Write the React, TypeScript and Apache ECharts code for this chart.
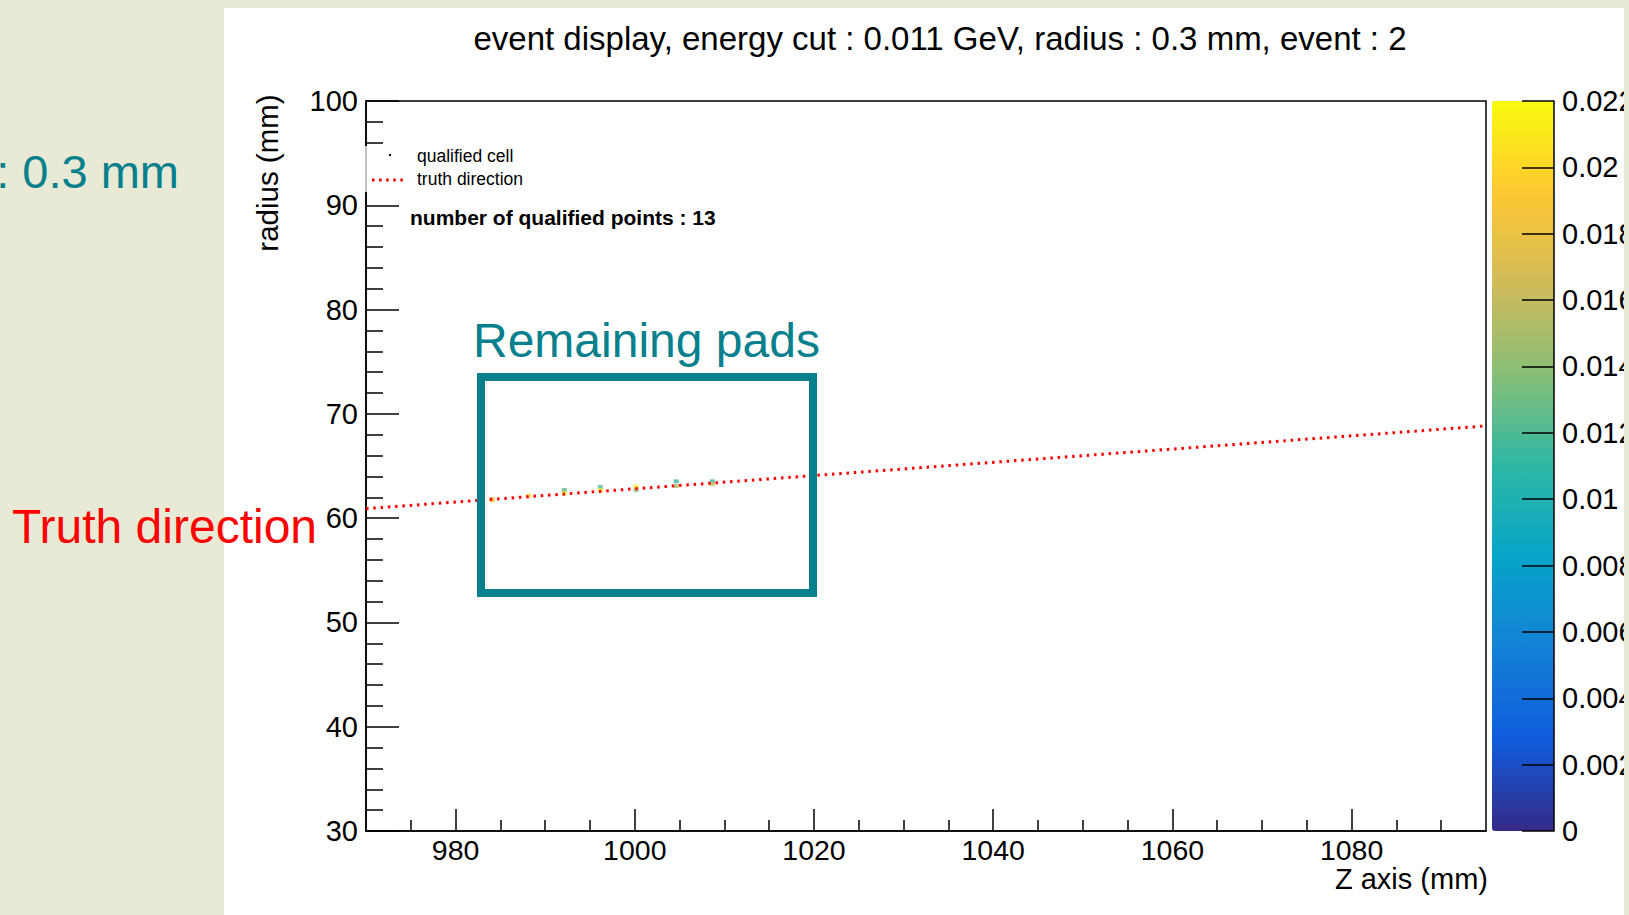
import React, { useEffect, useRef } from "react";
import * as echarts from "echarts";

// ---- data ----
const cellZ = [984.06, 984.06, 988.15, 992.13, 992.13, 996.15, 996.15, 1000.13, 1000.13, 1004.63, 1004.63, 1008.65, 1008.65];
const cellR = [61.84, 61.7, 62.15, 62.7, 62.38, 62.99, 62.67, 63.02, 62.7, 63.53, 63.08, 63.53, 63.27];
const cellE = [0.0175, 0.019, 0.0195, 0.0125, 0.021, 0.0125, 0.0215, 0.021, 0.014, 0.0115, 0.015, 0.0115, 0.016];

const truthZ = [970, 1094.6];
const truthR = [60.91, 68.82];

const xMajorTicks = [980, 1000, 1020, 1040, 1060, 1080];
const xMinorTicks = [975, 985, 990, 995, 1005, 1010, 1015, 1025, 1030, 1035, 1045, 1050, 1055, 1065, 1070, 1075, 1085, 1090];

const birdPalette = ["#352a87", "#0f5cdd", "#1481d6", "#06a4ca", "#2eb7a4", "#87bf77", "#d1bb59", "#fec832", "#f9fb0e"];

const titleText = "event display, energy cut : 0.011 GeV, radius : 0.3 mm, event : 2";

const FONT = "'Liberation Sans', Arial, Helvetica, sans-serif";
const BEIGE = "#e8ead5";
const TEAL = "#06808d";

export default function App() {
  const ref = useRef<HTMLDivElement>(null);
  useEffect(() => {
    if (!ref.current) return;
    const chart = echarts.init(ref.current, null, { renderer: "svg" });
    const cells = cellZ.map((z, i) => [z, cellR[i], cellE[i]]);
    const truth = truthZ.map((z, i) => [z, truthR[i]]);
    const option: any = {
      animation: false,
      backgroundColor: BEIGE,
      textStyle: { fontFamily: FONT },
      grid: [
        { left: 366, top: 101, width: 1120, height: 730, show: true, borderColor: "#000", borderWidth: 1.5, backgroundColor: "transparent", containLabel: false, outerBoundsMode: "none" },
        { left: 1492, top: 101, width: 62, height: 730, show: false, containLabel: false, outerBoundsMode: "none" },
      ],
      xAxis: [
        {
          type: "value", gridIndex: 0, min: 970, max: 1095,
          axisLine: { show: true, onZero: false, lineStyle: { color: "#000", width: 1.5 } },
          axisTick: { show: true, inside: true, length: 22, customValues: xMajorTicks, lineStyle: { color: "#000", width: 1.5 } },
          axisLabel: { show: true, customValues: xMajorTicks, fontSize: 28.5, color: "#000", margin: 4, fontFamily: FONT, formatter: (v: number) => String(v) },
          splitLine: { show: false },
        },
        {
          type: "value", gridIndex: 0, min: 970, max: 1095, position: "bottom",
          axisLine: { show: false, onZero: false },
          axisTick: { show: true, inside: true, length: 11, customValues: xMinorTicks, lineStyle: { color: "#000", width: 1.5 } },
          axisLabel: { show: false },
          splitLine: { show: false },
        },
        { type: "value", gridIndex: 1, show: false, min: 0, max: 1 },
      ],
      yAxis: [
        {
          type: "value", gridIndex: 0, min: 30, max: 100, interval: 10,
          axisLine: { show: true, onZero: false, lineStyle: { color: "#000", width: 1.5 } },
          axisTick: { show: true, inside: true, length: 33, lineStyle: { color: "#000", width: 1.5 } },
          minorTick: { show: true, splitNumber: 5, length: 17, lineStyle: { color: "#000", width: 1.5 } },
          axisLabel: { fontSize: 29, color: "#000", margin: 8, fontFamily: FONT },
          splitLine: { show: false },
        },
        {
          type: "value", gridIndex: 1, position: "right", min: 0, max: 0.022, interval: 0.002, z: 10,
          axisLine: { show: true, onZero: false, lineStyle: { color: "#000", width: 1.5 } },
          axisTick: { show: true, inside: true, length: 32, lineStyle: { color: "#000", width: 1.5 } },
          axisLabel: { fontSize: 29, color: "#000", margin: 8, fontFamily: FONT, formatter: (v: number) => String(parseFloat(v.toFixed(3))) },
          splitLine: { show: false },
        },
      ],
      visualMap: {
        type: "continuous", min: 0, max: 0.022, dimension: 2, seriesIndex: 0,
        inRange: { color: birdPalette },
        orient: "vertical", left: 1492, top: 101, itemWidth: 62, itemHeight: 730,
        calculable: false, hoverLink: false, padding: 0, show: true, z: 4,
      },
      series: [
        {
          name: "qualified cell", type: "scatter", xAxisIndex: 0, yAxisIndex: 0,
          symbol: "rect", symbolSize: [5, 4], data: cells, z: 3,
        },
        {
          name: "truth direction", type: "line", xAxisIndex: 0, yAxisIndex: 0,
          data: truth, symbol: "none", z: 4,
          lineStyle: { color: "#ff0000", width: 3, type: [2.5, 4.8] },
        },
      ],
      graphic: [
        { type: "rect", z: -10, shape: { x: 224, y: 8, width: 1400, height: 907 }, style: { fill: "#ffffff" } },
        { type: "text", z: 5, x: 940, y: 38, style: { text: titleText, fontSize: 33, fontFamily: FONT, fill: "#000", align: "center", verticalAlign: "middle" } },
        { type: "text", z: 5, x: 267, y: 173, rotation: Math.PI / 2, style: { text: "radius (mm)", fontSize: 29.5, fontFamily: FONT, fill: "#000", align: "center", verticalAlign: "middle" } },
        { type: "text", z: 5, x: 1488, y: 879, style: { text: "Z axis (mm)", fontSize: 29, fontFamily: FONT, fill: "#000", align: "right", verticalAlign: "middle" } },
        // legend
        { type: "rect", z: 10, shape: { x: 365, y: 146, width: 165, height: 46 }, style: { fill: "#ffffff" } },
        { type: "line", z: 11, shape: { x1: 366, y1: 146, x2: 366, y2: 192 }, style: { stroke: "#b0b0b0", lineWidth: 1.5 } },
        { type: "circle", z: 11, shape: { cx: 390, cy: 155, r: 1.2 }, style: { fill: "#000" } },
        { type: "line", z: 11, shape: { x1: 372, y1: 180, x2: 406, y2: 180 }, style: { stroke: "#ff0000", lineWidth: 3, lineDash: [2.5, 4.6] } },
        { type: "text", z: 11, x: 417, y: 156, style: { text: "qualified cell", fontSize: 17.5, fontFamily: FONT, fill: "#000", align: "left", verticalAlign: "middle" } },
        { type: "text", z: 11, x: 417, y: 179, style: { text: "truth direction", fontSize: 17.5, fontFamily: FONT, fill: "#000", align: "left", verticalAlign: "middle" } },
        { type: "text", z: 11, x: 410, y: 217, style: { text: "number of qualified points : 13", fontSize: 21, fontWeight: "bold", fontFamily: FONT, fill: "#000", align: "left", verticalAlign: "middle" } },
        // annotations
        { type: "rect", z: 20, shape: { x: 481, y: 377, width: 332, height: 216 }, style: { fill: "none", stroke: TEAL, lineWidth: 8 } },
        { type: "text", z: 20, x: 473, y: 340, style: { text: "Remaining pads", fontSize: 48, fontFamily: FONT, fill: TEAL, align: "left", verticalAlign: "middle" } },
        { type: "text", z: 20, x: 12, y: 526, style: { text: "Truth direction", fontSize: 48, fontFamily: FONT, fill: "#ff0000", align: "left", verticalAlign: "middle" } },
        { type: "text", z: 20, x: 179, y: 171, style: { text: ": 0.3 mm", fontSize: 47, fontFamily: FONT, fill: TEAL, align: "right", verticalAlign: "middle" } },
        // right beige strip covering colorbar labels
        { type: "rect", z: 100, shape: { x: 1624, y: 0, width: 5, height: 915 }, style: { fill: BEIGE } },
      ],
    };
    chart.setOption(option);
    return () => chart.dispose();
  }, []);
  return <div ref={ref} style={{ position: "fixed", left: 0, top: 0, width: 1629, height: 915 }} />;
}
